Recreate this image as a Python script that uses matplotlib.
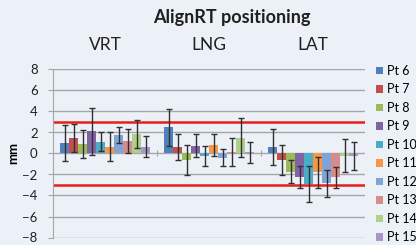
import matplotlib
matplotlib.use("Agg")
import matplotlib.pyplot as plt
import numpy as np

plt.rcParams['font.family'] = ['Lato', 'DejaVu Sans']

categories = ["VRT", "LNG", "LAT"]
patients = ["Pt 6", "Pt 7", "Pt 8", "Pt 9", "Pt 10", "Pt 11", "Pt 12", "Pt 13", "Pt 14", "Pt 15"]

# mean shift per patient (mm), order VRT, LNG, LAT
means = {
    "Pt 6":  [1.0, 2.5, 0.6],
    "Pt 7":  [1.5, 0.65, -0.62],
    "Pt 8":  [0.9, -0.62, -1.73],
    "Pt 9":  [2.1, 0.75, -2.2],
    "Pt 10": [1.1, -0.25, -2.93],
    "Pt 11": [0.65, 0.8, -1.79],
    "Pt 12": [1.76, -0.4, -2.84],
    "Pt 13": [1.19, 0.15, -2.27],
    "Pt 14": [1.83, 1.5, -0.2],
    "Pt 15": [0.65, 0.1, -0.22],
}
# standard deviation (mm)
sds = {
    "Pt 6":  [1.67, 1.74, 1.7],
    "Pt 7":  [1.35, 1.25, 1.43],
    "Pt 8":  [1.3, 1.4, 1.1],
    "Pt 9":  [2.27, 1.1, 1.05],
    "Pt 10": [0.9, 0.95, 1.7],
    "Pt 11": [1.4, 1.05, 1.47],
    "Pt 12": [0.8, 0.83, 1.27],
    "Pt 13": [1.15, 1.3, 1.0],
    "Pt 14": [1.35, 1.85, 1.58],
    "Pt 15": [1.0, 0.98, 1.35],
}
colors = ["#4F81BD", "#C0504D", "#9BBB59", "#8064A2", "#4BACC6",
          "#F79646", "#7FA4D8", "#D48C8C", "#AFD08A", "#A996C8"]
tolerance = 3

bg = "#ECF0F7"
fig = plt.figure(figsize=(4.16, 2.45), dpi=100, facecolor=bg)
ax = fig.add_axes([53/416, 1-237.5/245, 312/416, 168/245])
ax.set_facecolor(bg)

x = np.arange(len(categories))
w = 9/104
for i, p in enumerate(patients):
    off = (-40.5 + 9*i) / 104
    ax.bar(x + off, means[p], w, color=colors[i], label=p, zorder=3)
    ax.errorbar(x + off, means[p], yerr=sds[p], fmt="none", ecolor="#303030",
                elinewidth=1, capsize=2.5, capthick=1, zorder=4)

ax.axhline(tolerance, color="#E8201C", lw=1.8, zorder=2)
ax.axhline(-tolerance, color="#E8201C", lw=1.8, zorder=2)

ax.set_xlim(-0.5, 2.5)
ax.set_ylim(-8, 8)
ax.set_yticks(np.arange(-8, 9, 2))
ax.yaxis.grid(True, color="#A6A6A6", lw=1, zorder=0)
ax.tick_params(axis="y", length=3.6, color="#A6A6A6", labelsize=9.5, pad=7.5, labelcolor="#202020")
for s in ["top", "right"]:
    ax.spines[s].set_visible(False)
ax.spines["left"].set_color("#A6A6A6")
ax.spines["bottom"].set_position(("data", 0))
ax.spines["bottom"].set_visible(False)
ax.set_xticks([0.5, 1.5])
ax.set_xticklabels([])
ax.tick_params(axis="x", length=4, direction="inout", color="#A6A6A6")

top = ax.secondary_xaxis("top")
top.set_xticks(x)
top.set_xticklabels(categories, fontsize=12.5, color="#202020")
top.tick_params(length=0, pad=12)
top.spines["top"].set_visible(False)

ax.set_ylabel("mm", fontsize=9.5, fontweight="bold", labelpad=2)
fig.text(232/416, 1-17/245, "AlignRT positioning", ha="center", va="center",
         fontsize=13, fontweight="bold", color="#202020")

ax.legend(loc="upper left", bbox_to_anchor=(1.02, 1.058), frameon=False,
          fontsize=9, handlelength=0.55, handleheight=0.55, handletextpad=0.3,
          labelspacing=0.52, borderaxespad=0)

fig.savefig("out.png", dpi=100, facecolor=bg)
